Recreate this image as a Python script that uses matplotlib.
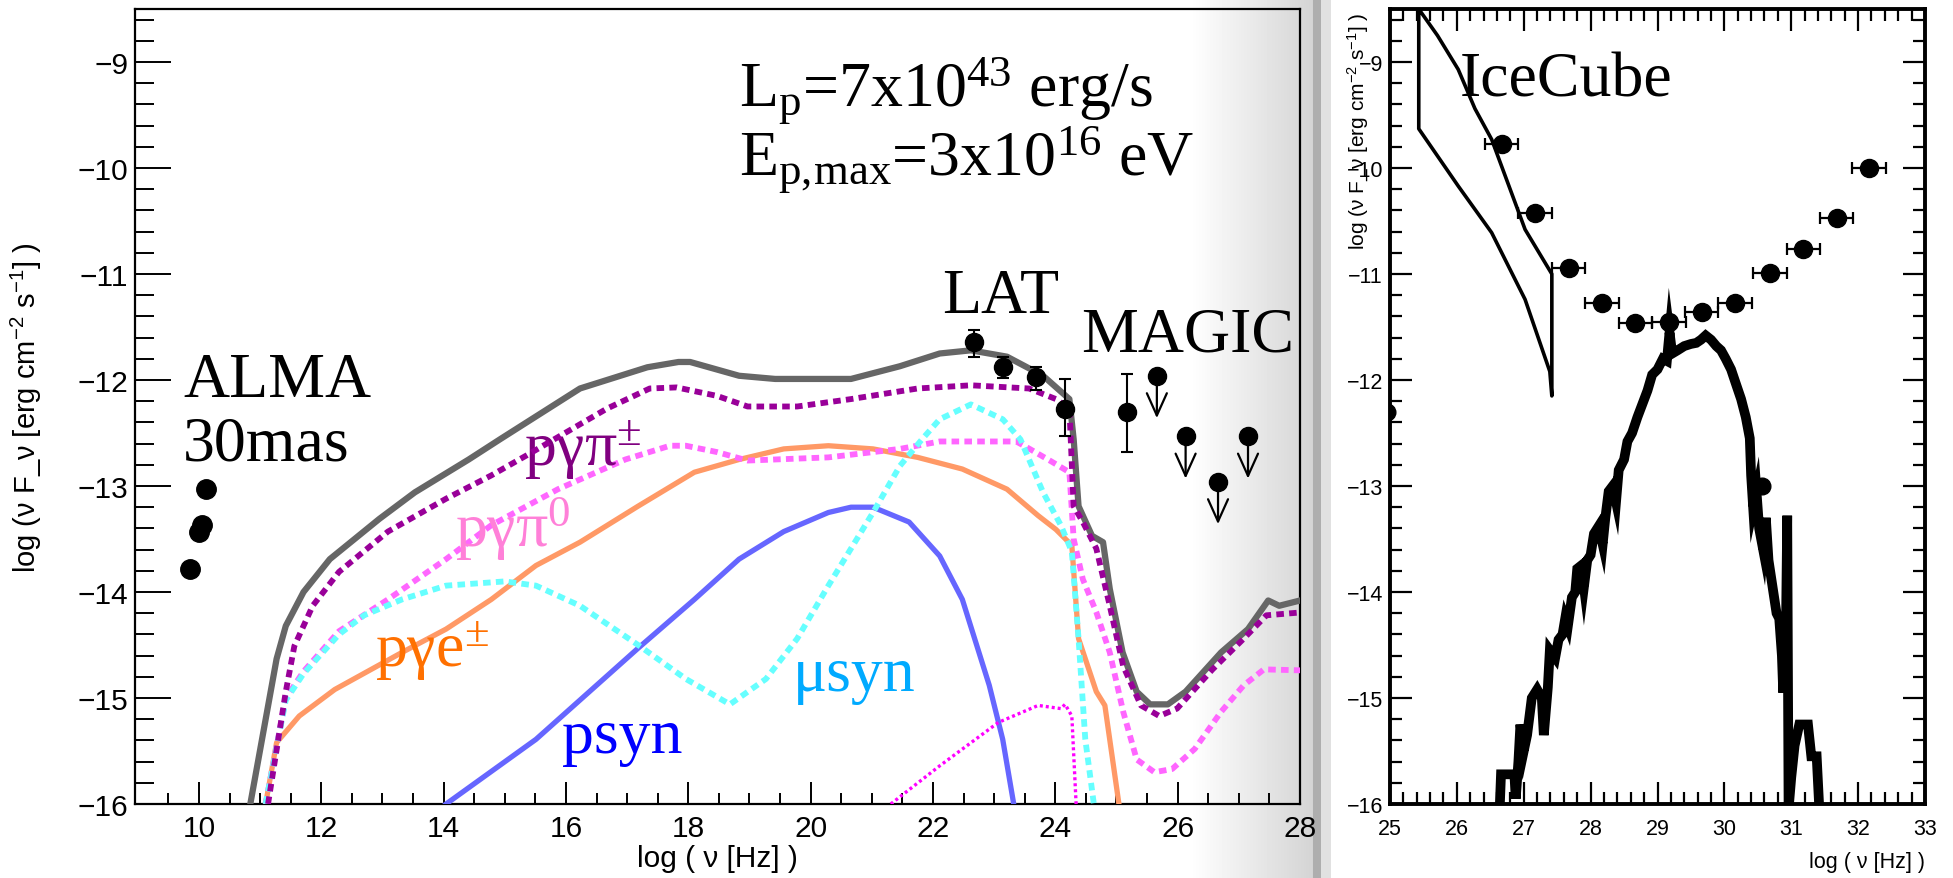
import numpy as np
import matplotlib
matplotlib.use("Agg")
import matplotlib.pyplot as plt

plt.rcParams['font.family'] = ['Liberation Sans', 'DejaVu Sans']
plt.rcParams['mathtext.default'] = 'regular'
SERIF = ['Liberation Serif', 'DejaVu Serif']

# ---------------- left panel: model curves (log nu, log nuFnu) ----------------
total_x = [10.84, 11.27, 11.42, 11.71, 12.14, 12.95, 13.53, 14.41, 14.92, 16.23, 17.33, 17.84,
           18.03, 18.83, 19.42, 20.66, 21.46, 22.11, 22.62, 23.21, 23.80, 24.23, 24.30, 24.38,
           24.60, 24.78, 24.89, 25.10, 25.33, 25.55, 25.84, 26.13, 26.71, 27.15, 27.48, 27.66, 28.07]
total_y = [-16.0, -14.63, -14.32, -14.0, -13.69, -13.31, -13.06, -12.75, -12.56, -12.08, -11.88, -11.83,
           -11.83, -11.96, -11.99, -11.99, -11.87, -11.75, -11.72, -11.78, -11.96, -12.18, -12.56, -13.19,
           -13.47, -13.53, -13.97, -14.57, -14.94, -15.06, -15.06, -14.94, -14.57, -14.35, -14.08, -14.13, -14.07]

pich_x = [11.13, 11.42, 11.56, 11.86, 12.29, 13.09, 14.04, 14.78, 15.36, 16.67, 17.37, 17.81, 18.47,
          18.97, 19.78, 20.66, 21.75, 22.62, 23.57, 24.01, 24.23, 24.30, 24.45, 24.67, 24.89, 25.11,
          25.40, 25.70, 25.99, 26.57, 27.08, 27.45, 28.07]
pich_y = [-16.0, -14.94, -14.51, -14.13, -13.81, -13.43, -13.12, -12.90, -12.71, -12.27, -12.08, -12.07, -12.15,
          -12.25, -12.25, -12.18, -12.08, -12.05, -12.08, -12.18, -12.27, -13.19, -13.34, -13.59, -14.13, -14.70,
          -15.07, -15.17, -15.10, -14.73, -14.44, -14.22, -14.19]

pi0_x = [11.09, 11.42, 11.71, 12.29, 13.09, 14.04, 14.78, 15.87, 16.97, 17.70, 17.96, 18.47, 18.97,
         20.29, 21.46, 22.11, 23.36, 23.58, 23.94, 24.23, 24.30, 24.45, 24.67, 24.89, 25.11, 25.33,
         25.62, 25.91, 26.28, 26.71, 27.08, 27.41, 28.07]
pi0_y = [-16.0, -15.0, -14.75, -14.37, -14.07, -13.69, -13.37, -13.03, -12.75, -12.62, -12.62, -12.68, -12.76,
         -12.73, -12.65, -12.58, -12.58, -12.65, -12.77, -12.87, -13.50, -13.88, -14.19, -14.57, -15.13, -15.58,
         -15.70, -15.67, -15.48, -15.13, -14.88, -14.73, -14.74]

pe_x = [11.09, 11.27, 11.64, 12.22, 13.32, 14.04, 14.78, 15.51, 16.23, 17.18, 18.10, 18.83, 19.56,
        20.29, 21.02, 21.75, 22.48, 23.21, 23.72, 24.01, 24.27, 24.38, 24.67, 24.81, 25.04]
pe_y = [-16.0, -15.42, -15.17, -14.92, -14.57, -14.35, -14.07, -13.75, -13.53, -13.19, -12.87, -12.75, -12.65,
        -12.62, -12.65, -12.73, -12.84, -13.03, -13.28, -13.41, -13.56, -14.44, -14.94, -15.07, -16.0]

musyn_x = [11.09, 11.42, 11.71, 12.29, 12.70, 13.32, 14.04, 15.00, 15.51, 16.23, 17.18, 17.96, 18.68,
           19.27, 19.78, 20.29, 21.02, 21.46, 21.82, 22.11, 22.62, 23.14, 23.43, 23.80, 24.09, 24.27,
           24.38, 24.49, 24.63]
musyn_y = [-16.0, -15.02, -14.77, -14.40, -14.22, -14.07, -13.94, -13.90, -13.94, -14.13, -14.50, -14.82, -15.06,
           -14.82, -14.44, -13.94, -13.25, -12.81, -12.56, -12.37, -12.23, -12.37, -12.56, -13.06, -13.37, -13.62,
           -14.44, -15.39, -16.0]

psyn_x = [14.04, 15.51, 17.18, 18.10, 18.83, 19.56, 20.29, 20.66, 21.02, 21.61, 22.11, 22.48, 22.92, 23.14, 23.32]
psyn_y = [-16.0, -15.39, -14.53, -14.07, -13.69, -13.43, -13.25, -13.20, -13.20, -13.34, -13.66, -14.07, -14.88, -15.39, -16.0]

other_x = [21.31, 22.11, 23.07, 23.72, 24.09, 24.16, 24.27, 24.34]
other_y = [-16.0, -15.64, -15.23, -15.07, -15.10, -15.06, -15.17, -16.0]

# ---------------- left panel: data ----------------
alma_x = [9.85, 10.00, 10.05, 10.12]
alma_y = [-13.78, -13.43, -13.37, -13.03]

lat_x = [22.67, 23.14, 23.69, 24.16]
lat_y = [-11.64, -11.88, -11.97, -12.27]
lat_err_lo = [0.14, 0.10, 0.12, 0.26]
lat_err_hi = [0.11, 0.10, 0.09, 0.28]

magic_x = [25.18]
magic_y = [-12.30]
magic_err_lo = [0.38]
magic_err_hi = [0.36]

ul_x = [25.66, 26.13, 26.66, 27.15]
ul_y = [-11.96, -12.53, -12.96, -12.53]
ul_len = 0.40

# ---------------- right panel ----------------
bowtie_x = [25.43, 25.43, 25.71, 26.02, 26.27, 26.52, 27.02, 27.42, 27.42, 27.39, 27.02, 26.52, 26.02, 25.43, 25.43]
bowtie_y = [-8.40, -8.50, -8.75, -9.07, -9.44, -9.73, -10.58, -11.00, -12.15, -11.92, -11.24, -10.61, -10.17, -9.63, -8.40]

sens_x = [26.67, 27.17, 27.67, 28.17, 28.67, 29.17, 29.66, 30.16, 30.68, 31.18, 31.68, 32.16]
sens_y = [-9.77, -10.42, -10.94, -11.27, -11.46, -11.45, -11.36, -11.27, -10.99, -10.76, -10.47, -10.00]
sens_xerr = 0.25

extra_x = [24.95, 30.57]
extra_y = [-12.30, -13.00]

nu_x = [26.64, 26.66, 26.86, 26.88, 26.92, 26.95, 27.00, 27.05, 27.12, 27.20, 27.27, 27.30, 27.36, 27.39,
        27.47, 27.52, 27.58, 27.62, 27.66, 27.72, 27.77, 27.80, 27.86, 27.90, 27.95, 28.00, 28.05, 28.12,
        28.18, 28.22, 28.27, 28.33, 28.38, 28.42, 28.50, 28.55, 28.62, 28.70, 28.76, 28.85, 28.92, 29.00,
        29.08, 29.14, 29.18, 29.22, 29.30, 29.40, 29.50, 29.58, 29.65, 29.72, 29.80, 29.88, 29.95, 30.02,
        30.10, 30.18, 30.25, 30.32, 30.38, 30.40, 30.43, 30.48, 30.52, 30.58, 30.62, 30.66, 30.72, 30.78,
        30.82, 30.86, 30.88, 30.92, 30.94, 30.96, 31.00, 31.05, 31.12, 31.25, 31.30, 31.38, 31.42]
nu_y = [-16.05, -15.72, -15.72, -15.95, -15.60, -15.25, -15.50, -15.35, -15.00, -14.92, -15.00, -15.35, -14.90, -14.55,
        -14.62, -14.45, -14.40, -14.25, -14.32, -14.05, -14.00, -13.78, -13.75, -13.95, -13.70, -13.65, -13.45, -13.38,
        -13.55, -13.30, -13.05, -13.00, -13.15, -12.85, -12.75, -12.58, -12.50, -12.35, -12.25, -12.10, -11.95, -11.90,
        -11.80, -11.82, -11.55, -11.75, -11.72, -11.68, -11.66, -11.65, -11.62, -11.58, -11.62, -11.68, -11.72, -11.80,
        -11.90, -12.05, -12.18, -12.35, -12.55, -12.90, -13.20, -13.05, -13.40, -13.60, -13.30, -13.70, -13.95, -14.20,
        -14.25, -14.60, -14.95, -14.40, -13.28, -16.05, -15.75, -15.45, -15.25, -15.25, -15.55, -15.55, -16.05]

left_xticks = [10, 12, 14, 16, 18, 20, 22, 24, 26, 28]
right_xticks = [25, 26, 27, 28, 29, 30, 31, 32, 33]
yticks = [-16, -15, -14, -13, -12, -11, -10, -9]

# ---------------- figure ----------------
W, H = 1953, 879
fig = plt.figure(figsize=(W / 100, H / 100), dpi=100)

# page shading between panels
cols = np.arange(W)
g = np.ones(W)
m = (cols >= 1190) & (cols < 1313)
g[m] = 1 - 0.17 * (cols[m] - 1190) / (1313 - 1190)
g[(cols >= 1313) & (cols < 1321)] = 0.68
g[(cols >= 1321) & (cols < 1331)] = 0.88
axbg = fig.add_axes([0, 0, 1, 1], zorder=-10)
axbg.imshow(np.tile(g, (2, 1)), aspect='auto', cmap='gray', vmin=0, vmax=1, extent=[0, 1, 0, 1])
axbg.set_axis_off()

ax1 = fig.add_axes([135 / W, 1 - 805 / H, (1300 - 135) / W, 795 / H], zorder=1)
ax1.set_facecolor('none')
ax2 = fig.add_axes([1390 / W, 1 - 805 / H, (1925 - 1390) / W, 795 / H], zorder=1)
ax2.set_facecolor('white')

dot = (0, (1.3, 0.9))
ax1.plot(total_x, total_y, color='#666666', lw=4.5, zorder=3)
ax1.plot(pe_x, pe_y, color='#FF9966', lw=3.8, zorder=3)
ax1.plot(psyn_x, psyn_y, color='#6666FF', lw=3.8, zorder=3)
ax1.plot(pi0_x, pi0_y, color='#FF66FF', lw=4.2, ls=dot, zorder=3, dash_capstyle='butt')
ax1.plot(musyn_x, musyn_y, color='#66FFFF', lw=4.2, ls=dot, zorder=3, dash_capstyle='butt')
ax1.plot(pich_x, pich_y, color='#990099', lw=4.2, ls=dot, zorder=4, dash_capstyle='butt')
ax1.plot(other_x, other_y, color='#FF00FF', lw=2.4, ls=(0, (0.9, 0.9)), zorder=3)

ax1.plot(alma_x, alma_y, 'o', color='k', ms=14, zorder=5)
ax1.errorbar(lat_x, lat_y, yerr=[lat_err_lo, lat_err_hi], fmt='o', color='k', ms=13,
             elinewidth=1.5, capsize=4, capthick=1.5, zorder=5)
ax1.errorbar(magic_x, magic_y, yerr=[magic_err_lo, magic_err_hi], fmt='o', color='k', ms=13,
             elinewidth=1.5, capsize=4, capthick=1.5, zorder=5)
ax1.plot(ul_x, ul_y, 'o', color='k', ms=13, zorder=5)
for xu, yu in zip(ul_x, ul_y):
    ax1.annotate('', xy=(xu, yu - ul_len), xytext=(xu, yu),
                 arrowprops=dict(arrowstyle='->,head_length=1.0,head_width=0.45', color='k', lw=1.6,
                                 shrinkA=0, shrinkB=0, mutation_scale=16), zorder=5)

# texts
big = 46
ax1.text(9.74, -12.15, 'ALMA', family=SERIF, fontsize=big, va='baseline')
ax1.text(9.74, -12.75, '30mas', family=SERIF, fontsize=big, va='baseline')
ax1.text(18.83, -9.41, 'L$_{p}$=7x10$^{43}$ erg/s', family=SERIF, fontsize=big, va='baseline')
ax1.text(18.83, -10.06, 'E$_{p,\\!max}$=3x10$^{16}$ eV', family=SERIF, fontsize=big, va='baseline')
ax1.text(22.15, -11.36, 'LAT', family=SERIF, fontsize=big, va='baseline')
ax1.text(24.42, -11.72, 'MAGIC', family=SERIF, fontsize=big, va='baseline')
ax1.text(15.32, -12.80, 'pγπ$^{±}$', family=SERIF, fontsize=big, va='baseline', color='#800080')
ax1.text(14.19, -13.57, 'pγπ$^{0}$', family=SERIF, fontsize=big, va='baseline', color='#FF80D8')
ax1.text(12.88, -14.70, 'pγe$^{±}$', family=SERIF, fontsize=big, va='baseline', color='#FF7000')
ax1.text(15.93, -15.51, 'psyn', family=SERIF, fontsize=big, va='baseline', color='#0000FF')
ax1.text(19.71, -14.92, 'μsyn', family=SERIF, fontsize=big, va='baseline', color='#00AAFF')

ax1.set_xlim(8.955, 28.0)
ax1.set_ylim(-16.0, -8.5)
ax1.set_xticks(left_xticks)
ax1.set_xticks(np.arange(9.5, 28.0, 0.5), minor=True)
ax1.set_yticks(yticks)
ax1.set_yticks(np.arange(-16, -8.45, 0.2), minor=True)
ax1.tick_params(which='both', direction='in', top=False, right=False, width=1.4, labelsize=21.5)
ax1.tick_params(axis='y', which='major', length=26, pad=5)
ax1.tick_params(axis='y', which='minor', length=14)
ax1.tick_params(axis='x', which='major', length=16, pad=7)
ax1.tick_params(axis='x', which='minor', length=8)
for s in ax1.spines.values():
    s.set_linewidth(1.6)
ax1.set_xlabel('log ( ν [Hz] )', fontsize=21.5, va='top')
ax1.xaxis.set_label_coords(0.5, -0.050)
ax1.set_ylabel('log (ν F_ν [erg cm$^{-2}$ s$^{-1}$] )', fontsize=21, va='center')
ax1.yaxis.set_label_coords(-0.093, 0.5)

# right panel
ax2.plot(bowtie_x, bowtie_y, color='k', lw=2.6, zorder=3)
ax2.plot(nu_x, nu_y, color='k', lw=7.0, zorder=3, solid_joinstyle='miter')
ax2.errorbar(sens_x, sens_y, xerr=sens_xerr, fmt='o', color='k', ms=13, elinewidth=1.6,
             capsize=4, capthick=1.6, zorder=4)
ax2.plot(extra_x, extra_y, 'o', color='k', ms=12, zorder=4)
ax2.text(26.05, -9.32, 'IceCube', family=SERIF, fontsize=big, va='baseline')

ax2.set_xlim(25, 33)
ax2.set_ylim(-16.0, -8.5)
ax2.set_xticks(right_xticks)
ax2.set_xticks(np.arange(25, 33.01, 0.2), minor=True)
ax2.set_yticks(yticks)
ax2.set_yticks(np.arange(-16, -8.45, 0.2), minor=True)
ax2.tick_params(which='both', direction='in', top=True, right=True, width=1.6, labelsize=15.5)
ax2.tick_params(which='major', length=16)
ax2.tick_params(which='minor', length=8.5)
ax2.tick_params(axis='x', pad=10)
ax2.tick_params(axis='y', pad=5)
for s in ax2.spines.values():
    s.set_linewidth(2.8)
ax2.set_xlabel('log ( ν [Hz] )', fontsize=15.5, ha='right', va='top')
ax2.xaxis.set_label_coords(1.0, -0.059)
ax2.set_ylabel('log (ν F_ν [erg cm$^{-2}$ s$^{-1}$] )', fontsize=15, ha='right', va='center')
ax2.yaxis.set_label_coords(-0.060, 0.996)

fig.savefig('out.png', dpi=100)
